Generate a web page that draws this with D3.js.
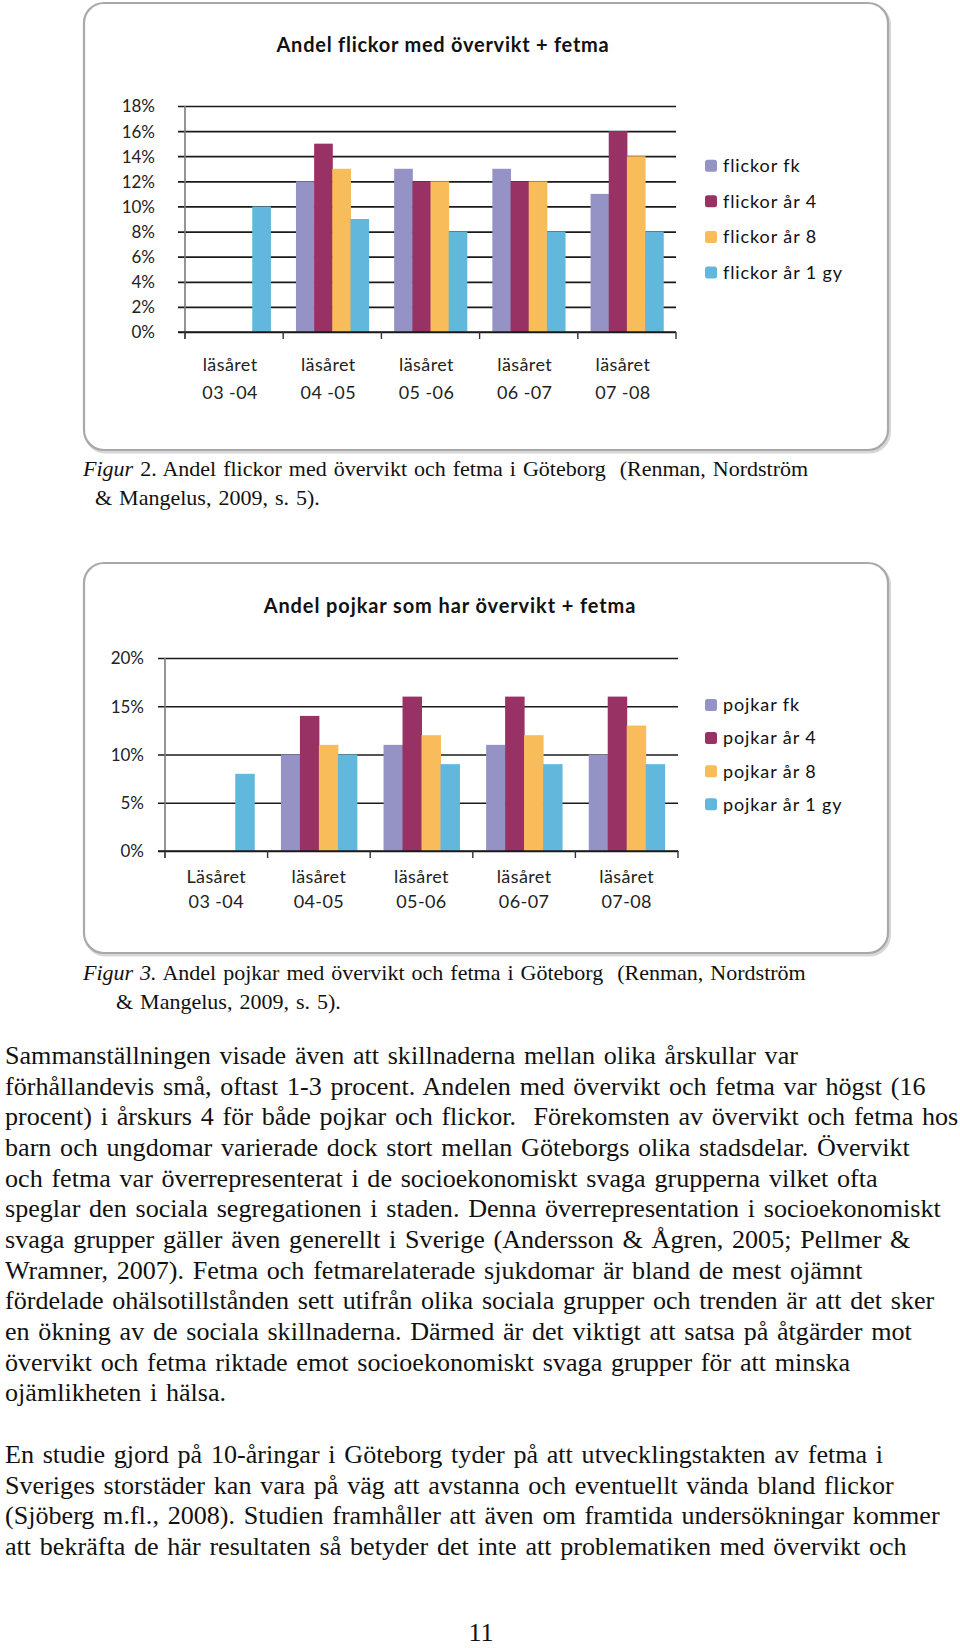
<!DOCTYPE html>
<html><head><meta charset="utf-8">
<script src="https://cdn.jsdelivr.net/npm/d3@7"></script>
<style>
html,body{margin:0;padding:0;background:#fff;}
svg text{white-space:pre;}
</style></head>
<body>
<svg id="page" width="960" height="1648"></svg>
<script>
// ---------- DATA ----------
const yearLabels1 = ["03 -04","04 -05","05 -06","06 -07","07 -08"];
const yearPrefix1 = ["läsåret","läsåret","läsåret","läsåret","läsåret"];
const girlsSeries = ["flickor fk","flickor år 4","flickor år 8","flickor år 1 gy"];
const girlsFk   = [null, 12, 13, 13, 11];
const girlsAr4  = [null, 15, 12, 12, 16];
const girlsAr8  = [null, 13, 12, 12, 14];
const girlsAr1gy= [10, 9, 8, 8, 8];
const girlsTicks = [0,2,4,6,8,10,12,14,16,18];

const yearLabels2 = ["03 -04","04-05","05-06","06-07","07-08"];
const yearPrefix2 = ["Läsåret","läsåret","läsåret","läsåret","läsåret"];
const boysSeries = ["pojkar fk","pojkar år 4","pojkar år 8","pojkar år 1 gy"];
const boysFk    = [null, 10, 11, 11, 10];
const boysAr4   = [null, 14, 16, 16, 16];
const boysAr8   = [null, 11, 12, 12, 13];
const boysAr1gy = [8, 10, 9, 9, 9];
const boysTicks = [0,5,10,15,20];

const seriesColors = ["#9592C5","#993264","#F9BC5B","#62B7DC"];

const caption1 = ["Figur"," 2. Andel flickor med övervikt och fetma i Göteborg  (Renman, Nordström","& Mangelus, 2009, s. 5)."];
const caption2 = ["Figur 3."," Andel pojkar med övervikt och fetma i Göteborg  (Renman, Nordström","& Mangelus, 2009, s. 5)."];
const para1 = [
"Sammanställningen visade även att skillnaderna mellan olika årskullar var",
"förhållandevis små, oftast 1-3 procent. Andelen med övervikt och fetma var högst (16",
"procent) i årskurs 4 för både pojkar och flickor.  Förekomsten av övervikt och fetma hos",
"barn och ungdomar varierade dock stort mellan Göteborgs olika stadsdelar. Övervikt",
"och fetma var överrepresenterat i de socioekonomiskt svaga grupperna vilket ofta",
"speglar den sociala segregationen i staden. Denna överrepresentation i socioekonomiskt",
"svaga grupper gäller även generellt i Sverige (Andersson & Ågren, 2005; Pellmer &",
"Wramner, 2007). Fetma och fetmarelaterade sjukdomar är bland de mest ojämnt",
"fördelade ohälsotillstånden sett utifrån olika sociala grupper och trenden är att det sker",
"en ökning av de sociala skillnaderna. Därmed är det viktigt att satsa på åtgärder mot",
"övervikt och fetma riktade emot socioekonomiskt svaga grupper för att minska",
"ojämlikheten i hälsa."];
const para2 = [
"En studie gjord på 10-åringar i Göteborg tyder på att utvecklingstakten av fetma i",
"Sveriges storstäder kan vara på väg att avstanna och eventuellt vända bland flickor",
"(Sjöberg m.fl., 2008). Studien framhåller att även om framtida undersökningar kommer",
"att bekräfta de här resultaten så betyder det inte att problematiken med övervikt och"];
const pageNumber = "11";

// ---------- DRAW ----------
const svg = d3.select("#page");
svg.append("rect").attr("width",960).attr("height",1648).attr("fill","#fff");

const SANS = "Lato, 'DejaVu Sans', sans-serif";

function drawChart(cfg){
  const g = svg.append("g");
  g.append("rect").attr("x",cfg.frame[0]+1.5).attr("y",cfg.frame[1]+2)
    .attr("width",cfg.frame[2]-cfg.frame[0]).attr("height",cfg.frame[3]-cfg.frame[1])
    .attr("rx",20).attr("fill","none").attr("stroke","#d8d8d8").attr("stroke-width",3);
  g.append("rect").attr("x",cfg.frame[0]).attr("y",cfg.frame[1])
    .attr("width",cfg.frame[2]-cfg.frame[0]).attr("height",cfg.frame[3]-cfg.frame[1])
    .attr("rx",20).attr("fill","#fff").attr("stroke","#a9a9a9").attr("stroke-width",2.2);

  g.append("text").attr("x",cfg.titleX).attr("y",cfg.titleY).attr("text-anchor","middle")
    .attr("font-family",SANS).attr("font-weight","bold").attr("font-size",20)
    .attr("letter-spacing",cfg.titleLs).attr("fill","#111").text(cfg.title);

  const y = d3.scaleLinear().domain([0,cfg.ticks[cfg.ticks.length-1]]).range([cfg.bottom,cfg.top]);
  const x0 = d3.scaleBand().domain(d3.range(cfg.years.length)).range([cfg.left,cfg.right]).padding(0);
  const bw = x0.bandwidth();
  const x1 = d3.scaleBand().domain(d3.range(cfg.series.length)).range([bw*0.13,bw*0.87]).padding(0);

  // gridlines + y labels via axis
  const yAxis = d3.axisLeft(y).tickValues(cfg.ticks).tickFormat(d=>d+"%").tickSize(0).tickPadding(0);
  const ya = g.append("g").attr("transform",`translate(${cfg.left},0)`).call(yAxis);
  ya.select(".domain").remove();
  ya.selectAll(".tick line").attr("x1",-7).attr("x2",cfg.right-cfg.left)
    .attr("stroke","#1a1a1a").attr("stroke-width",1.7);
  ya.selectAll(".tick text").attr("x",-(cfg.left-cfg.labelRight)).attr("dy","0.35em")
    .attr("font-family",SANS).attr("font-size",17).attr("fill","#222");

  // bars
  const data = [];
  cfg.values.forEach((arr,si)=>arr.forEach((v,ci)=>{ if(v!=null) data.push({si,ci,v}); }));
  g.append("g").selectAll("rect").data(data).join("rect")
    .attr("x",d=>x0(d.ci)+x1(d.si)).attr("width",x1.bandwidth()+0.5)
    .attr("y",d=>y(d.v)).attr("height",d=>cfg.bottom-y(d.v))
    .attr("fill",d=>seriesColors[d.si]);

  // y axis line
  g.append("line").attr("x1",cfg.left).attr("x2",cfg.left).attr("y1",cfg.top).attr("y2",cfg.bottom+7)
    .attr("stroke","#7a7a7a").attr("stroke-width",1.6);
  // x axis with ticks at band boundaries
  g.append("line").attr("x1",cfg.left-7).attr("x2",cfg.right).attr("y1",cfg.bottom).attr("y2",cfg.bottom)
    .attr("stroke","#1a1a1a").attr("stroke-width",1.7);
  const bounds = d3.range(cfg.years.length+1).map(i=> i<cfg.years.length ? x0(i) : cfg.right);
  g.append("g").selectAll("line").data(bounds).join("line")
    .attr("x1",d=>d).attr("x2",d=>d).attr("y1",cfg.bottom).attr("y2",cfg.bottom+7)
    .attr("stroke","#333").attr("stroke-width",1.4);

  // x labels
  const xl = g.append("g").attr("font-family",SANS).attr("font-size",18).attr("letter-spacing",0.4)
    .attr("fill","#222").attr("text-anchor","middle");
  cfg.years.forEach((yl,i)=>{
    const cx = x0(i)+bw/2+cfg.xLabelShift;
    xl.append("text").attr("x",cx).attr("y",cfg.xLabelY1).text(cfg.prefix[i]);
    xl.append("text").attr("x",cx).attr("y",cfg.xLabelY2).text(yl);
  });

  // legend
  const lg = g.append("g");
  cfg.series.forEach((s,i)=>{
    const cy = cfg.legendY + i*cfg.legendStep;
    lg.append("rect").attr("x",cfg.legendX).attr("y",cy-6).attr("width",12).attr("height",12)
      .attr("rx",2.5).attr("fill",seriesColors[i]);
    lg.append("text").attr("x",cfg.legendX+18).attr("y",cy).attr("dy","0.35em")
      .attr("font-family",SANS).attr("font-size",18).attr("letter-spacing",0.9)
      .attr("fill","#111").text(s);
  });
}

drawChart({
  frame:[84,3,888,450], title:"Andel flickor med övervikt + fetma", titleX:443, titleY:52, titleLs:0.75,
  left:185, right:676, top:106, bottom:332, labelRight:155, ticks:girlsTicks,
  years:yearLabels1, prefix:yearPrefix1, series:girlsSeries,
  values:[girlsFk,girlsAr4,girlsAr8,girlsAr1gy],
  xLabelShift:-4, xLabelY1:371, xLabelY2:399,
  legendX:705, legendY:165.7, legendStep:35.6
});
drawChart({
  frame:[84,563,888,953], title:"Andel pojkar som har övervikt + fetma", titleX:450, titleY:613, titleLs:0.9,
  left:165, right:678, top:658, bottom:851, labelRight:144, ticks:boysTicks,
  years:yearLabels2, prefix:yearPrefix2, series:boysSeries,
  values:[boysFk,boysAr4,boysAr8,boysAr1gy],
  xLabelShift:0, xLabelY1:883, xLabelY2:908,
  legendX:705, legendY:705, legendStep:33.1
});

// ---------- BODY TEXT ----------
const SERIF = "'Liberation Serif','Times New Roman',serif";
const tg = svg.append("g").attr("font-family",SERIF).attr("fill","#111");

// caption size calibrated so first caption line spans ~727px
const probe = tg.append("text").attr("font-size",20).attr("word-spacing",1.5);
probe.append("tspan").attr("font-style","italic").text(caption1[0]);
probe.append("tspan").text(caption1[1]);
const capW = probe.node().getComputedTextLength();
probe.remove();
const CAPFS = 20*727/capW;

function line(x,y,fs,ws,parts){
  const t = tg.append("text").attr("x",x).attr("y",y).attr("font-size",fs).attr("word-spacing",ws);
  parts.forEach(p=>{
    t.append("tspan").attr("font-style",p.i?"italic":null).text(p.t);
  });
  return t;
}
line(83,476,CAPFS,1.5,[{t:caption1[0],i:true},{t:caption1[1]}]);
line(95,505,CAPFS,1.5,[{t:caption1[2]}]);
line(83,980,CAPFS,1.5,[{t:caption2[0],i:true},{t:caption2[1]}]);
line(116,1009,CAPFS,1.5,[{t:caption2[2]}]);
para1.forEach((s,i)=>line(5,1064+i*30.68,26.1,2.2,[{t:s}]));
para2.forEach((s,i)=>line(5,1463+i*30.68,26.1,2.2,[{t:s}]));
tg.append("text").attr("x",481).attr("y",1641).attr("font-size",26).attr("text-anchor","middle").text(pageNumber);
</script>
</body></html>
